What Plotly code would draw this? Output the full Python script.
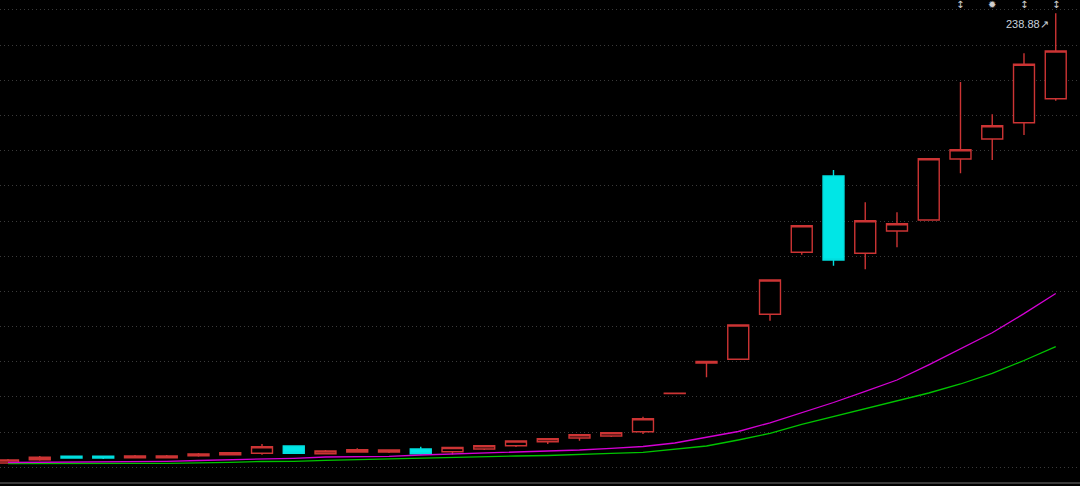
import plotly.graph_objects as go

# ---- data ----
idx = list(range(34))
opens = [9.70, 11.37, 13.10, 13.10, 12.38, 12.38, 13.40, 13.91, 14.63, 18.35,
         14.42, 15.29, 15.29, 16.82, 15.44, 16.82, 18.50, 20.54, 22.43, 23.44,
         25.64, 45.10, 60.65, 62.54, 85.47, 117.07, 155.96, 116.56, 127.92, 133.53,
         164.62, 174.81, 183.12, 195.35]
highs = [11.72, 13.25, 13.10, 13.10, 13.76, 13.76, 14.78, 15.29, 19.37, 18.35,
         16.31, 17.18, 16.67, 17.99, 17.58, 18.50, 20.90, 22.07, 24.11, 25.13,
         33.28, 45.30, 61.41, 80.02, 102.95, 130.63, 159.01, 142.55, 137.46, 164.77,
         203.86, 187.40, 218.49, 238.88]
lows = [9.43, 10.86, 11.82, 11.72, 12.38, 12.38, 12.89, 13.91, 13.91, 14.63,
        14.12, 15.29, 14.78, 13.91, 14.02, 16.31, 17.84, 19.37, 21.05, 22.93,
        24.46, 45.10, 53.36, 62.54, 82.21, 115.85, 110.24, 108.40, 119.62, 133.53,
        157.33, 164.11, 176.85, 194.33]
closes = [11.21, 12.59, 12.23, 12.23, 13.25, 13.25, 14.27, 14.93, 17.99, 14.63,
          15.80, 16.46, 16.31, 14.42, 17.58, 18.50, 20.90, 22.07, 24.11, 25.13,
          32.26, 45.30, 61.41, 80.02, 102.95, 130.63, 113.14, 133.17, 131.65, 164.77,
          169.36, 181.59, 212.88, 219.66]
ma_magenta = [9.94, 10.04, 10.04, 10.04, 10.45, 10.55, 10.96, 11.21, 11.47, 12.08,
              12.74, 12.89, 13.10, 13.76, 14.27, 14.42, 15.14, 15.65, 16.31, 17.18,
              18.09, 19.88, 22.68, 25.74, 30.17, 35.42, 40.52, 46.23, 51.99, 59.73,
              67.94, 76.09, 85.83, 96.07]
ma_green = [9.43, 9.53, 9.53, 9.53, 9.53, 9.53, 9.68, 10.04, 10.45, 10.55,
            11.06, 11.47, 11.57, 12.08, 12.33, 12.74, 13.25, 13.51, 13.91, 14.63,
            15.14, 16.56, 18.35, 21.41, 24.82, 29.31, 33.38, 37.46, 41.28, 45.36,
            49.95, 55.40, 61.92, 68.96]
max_label = "238.88↗"
event_idx = [30, 31, 32, 33]
event_glyphs = ["↕", "✹", "↕", "↕"]

fig = go.Figure()
fig.add_trace(go.Scatter(x=idx, y=ma_green, mode="lines",
                         line=dict(color="#00c400", width=1.3), hoverinfo="skip"))
fig.add_trace(go.Scatter(x=idx, y=ma_magenta, mode="lines",
                         line=dict(color="#d400d4", width=1.3), hoverinfo="skip"))
fig.add_trace(go.Candlestick(
    x=idx, open=opens, high=highs, low=lows, close=closes,
    increasing=dict(line=dict(color="#cc3434", width=1.4), fillcolor="#000000"),
    decreasing=dict(line=dict(color="#00dede", width=1.4), fillcolor="#00e6e6"),
    whiskerwidth=0,
))

for i, g in zip(event_idx, event_glyphs):
    fig.add_annotation(x=i, y=243.6, text=g, showarrow=False,
                       font=dict(color="#cfcfcf", size=10, family="DejaVu Sans"))

fig.add_annotation(x=33, y=233.4, text=max_label, showarrow=False,
                   xanchor="right", xshift=-5,
                   font=dict(color="#c8d2dc", size=11, family="Liberation Sans"))

fig.update_layout(
    width=1080, height=486,
    margin=dict(l=0, r=0, t=0, b=4),
    paper_bgcolor="#000000", plot_bgcolor="#000000",
    showlegend=False,
    boxgap=0.34, boxgroupgap=0.0,
    xaxis=dict(range=[-0.252, 33.764], showgrid=False, zeroline=False,
               showticklabels=False, rangeslider=dict(visible=False),
               showline=True, linecolor="#3a3a3a", linewidth=2, ticks=""),
    yaxis=dict(range=[0, 245.66], showgrid=True, gridcolor="#3a3a3a",
               griddash="1px,3px", gridwidth=1, tick0=7.49, dtick=17.93,
               zeroline=False, showticklabels=False, ticks=""),
)

fig.write_html(
    "out.html",
    config={"displayModeBar": False},
    post_script="document.body.style.margin='0px';document.body.style.background='#000';",
)
